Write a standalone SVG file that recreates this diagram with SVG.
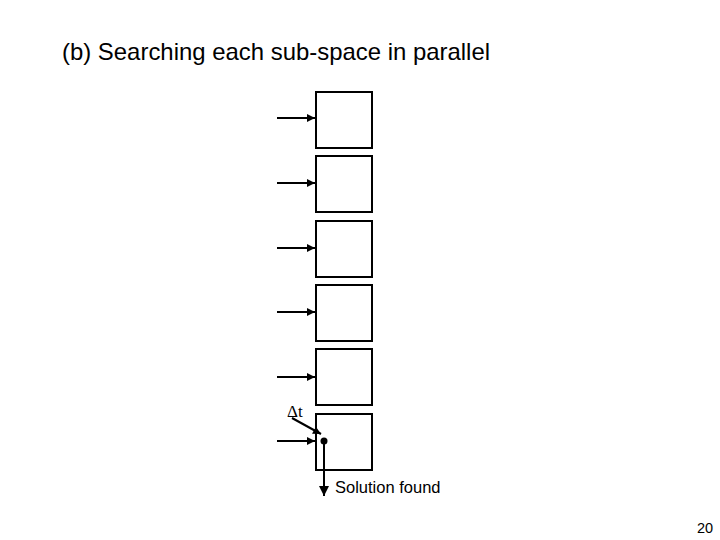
<svg xmlns="http://www.w3.org/2000/svg" width="720" height="540" viewBox="0 0 720 540">
<style>
.box{fill:#fff;stroke:#000;stroke-width:2}
.ln{stroke:#000;stroke-width:2;fill:none}
.t{font-family:"Liberation Sans",Arial,sans-serif;fill:#000}
</style>
<defs>
<marker id="ah" viewBox="0 0 10 10" refX="10" refY="5" markerWidth="5" markerHeight="4" markerUnits="strokeWidth" orient="auto">
<path d="M0,0 L10,5 L0,10 z" fill="#000"/>
</marker>
<marker id="ah2" viewBox="0 0 10 10" refX="10" refY="5" markerWidth="5" markerHeight="5" markerUnits="strokeWidth" orient="auto">
<path d="M0,0 L10,5 L0,10 z" fill="#000"/>
</marker>
</defs>
<rect width="720" height="540" fill="#fff"/>
<text class="t" x="62" y="60" font-size="24" textLength="428" lengthAdjust="spacingAndGlyphs">(b) Searching each sub-space in parallel</text>
<g id="box1"><rect class="box" x="316" y="92" width="56" height="56"/></g>
<g id="box2"><rect class="box" x="316" y="156" width="56" height="56"/></g>
<g id="box3"><rect class="box" x="316" y="221" width="56" height="56"/></g>
<g id="box4"><rect class="box" x="316" y="285" width="56" height="56"/></g>
<g id="box5"><rect class="box" x="316" y="349" width="56" height="56"/></g>
<g id="box6"><rect class="box" x="316" y="414" width="56" height="56"/></g>
<g id="connectors">
<line class="ln" x1="277" y1="118" x2="315" y2="118" stroke-width="3" marker-end="url(#ah)"/>
<line class="ln" x1="277" y1="183" x2="315" y2="183" marker-end="url(#ah)"/>
<line class="ln" x1="277" y1="248" x2="315" y2="248" marker-end="url(#ah)"/>
<line class="ln" x1="277" y1="312" x2="315" y2="312" stroke-width="3" marker-end="url(#ah)"/>
<line class="ln" x1="277" y1="377" x2="315" y2="377" marker-end="url(#ah)"/>
<line class="ln" x1="277" y1="441" x2="315" y2="441" marker-end="url(#ah)"/>
<line class="ln" x1="292" y1="418" x2="321" y2="434" marker-end="url(#ah)"/>
<circle cx="324" cy="441" r="3.5" fill="#000"/>
<line class="ln" x1="324" y1="441" x2="324" y2="496" marker-end="url(#ah2)"/>
</g>
<text x="287" y="417" font-family="'Liberation Serif','Times New Roman',serif" font-size="17">Δt</text>
<text class="t" x="335" y="493" font-size="16.5">Solution found</text>
<text class="t" x="697" y="533" font-size="14.5">20</text>
</svg>
